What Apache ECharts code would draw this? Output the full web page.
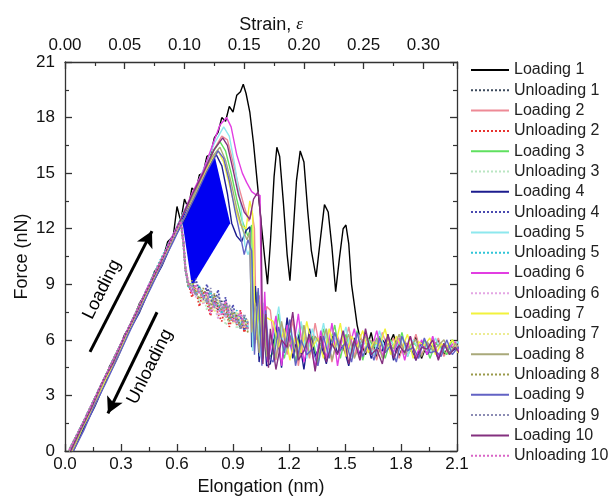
<!DOCTYPE html>
<html><head><meta charset="utf-8">
<script src="https://cdn.jsdelivr.net/npm/echarts/dist/echarts.min.js"></script>
<style>html,body{margin:0;padding:0;background:#fff}#c{width:610px;height:501px}</style>
</head><body><div id="c"></div>
<script>
// ---------- axis ticks / ranges ----------
var xMin = 0, xMax = 2.1, xStep = 0.3;
var yMin = 0, yMax = 21, yStep = 3;
var strainMax = 0.328125, strainStep = 0.05;

// ---------- series names & colours ----------
var names = ['Loading 1','Unloading 1','Loading 2','Unloading 2','Loading 3','Unloading 3','Loading 4','Unloading 4','Loading 5','Unloading 5',
             'Loading 6','Unloading 6','Loading 7','Unloading 7','Loading 8','Unloading 8','Loading 9','Unloading 9','Loading 10','Unloading 10'];
var loadColors = ['#000000','#ee8a96','#5fe05f','#1c1c8e','#8de8ee','#e23ee2','#f2f23c','#a9a97a','#6262c4','#84307f'];
var unloadColors = ['#3c4a5c','#e8322e','#b9e6c2','#4a4ab0','#2fc5d8','#e4a6e4','#ecec94','#9a9a4a','#8c8cb4','#d965c6'];

// ---------- loading curves: rise / peak / drop (elongation, force) ----------
var head1 = [[0.03,0],[0.06,0.7],[0.09,1.1],[0.12,2.0],[0.15,2.4],[0.18,3.3],[0.21,3.7],[0.24,4.6],[0.28,5.2],[0.32,6.3],[0.36,6.9],[0.40,8.0],[0.44,8.6],[0.48,9.7],[0.52,10.2],[0.55,11.3],[0.58,11.6],[0.60,13.2],[0.62,12.4],[0.64,13.6],[0.66,13.1],[0.68,14.2],[0.70,14.0],[0.72,14.9],[0.74,15.0],[0.76,15.9],[0.78,16.0],[0.80,16.9],[0.82,17.2],[0.84,18.0],[0.86,17.8],[0.88,18.6],[0.90,18.3],[0.92,19.2],[0.94,19.4],[0.955,19.8],[0.97,19.3],[0.99,18.3],[1.01,16.6],[1.03,14.5],[1.05,12.4],[1.07,10.4],[1.085,9.0],[1.10,11.2],[1.12,14.8],[1.135,16.4],[1.15,15.9],[1.17,13.4],[1.19,10.6],[1.205,9.2],[1.22,11.4],[1.24,14.6],[1.26,16.2],[1.28,15.6],[1.30,13.0],[1.32,10.8],[1.345,9.4],[1.37,11.6],[1.39,13.3],[1.41,12.9],[1.43,11.0],[1.45,8.6],[1.47,10.4],[1.49,12.0],[1.505,12.2],[1.52,11.2],[1.535,9.0],[1.55,7.9],[1.565,6.8]];
var head2 = [[0.04,0],[0.1,1.3],[0.16,2.6],[0.22,3.9],[0.28,5.1],[0.34,6.6],[0.40,7.6],[0.46,9.1],[0.52,10.2],[0.58,11.5],[0.64,12.6],[0.70,14.0],[0.76,15.3],[0.80,16.3],[0.84,17.0],[0.87,16.8],[0.90,15.6],[0.93,14.3],[0.96,13.2],[0.985,12.4],[1.0,13.0],[1.015,12.0],[1.025,6.0],[1.04,8.4],[1.06,5.0],[1.08,7.8]];
var head3 = [[0.035,0],[0.09,1.1],[0.15,2.6],[0.21,3.8],[0.27,5.2],[0.33,6.3],[0.39,7.7],[0.45,8.8],[0.51,10.2],[0.57,11.4],[0.63,12.8],[0.69,13.9],[0.75,15.3],[0.79,16.1],[0.83,16.7],[0.86,16.2],[0.89,15.0],[0.92,13.6],[0.95,12.4],[0.98,11.6],[1.0,12.2],[1.01,6.2],[1.03,8.6],[1.05,5.2],[1.07,7.9],[1.09,5.0]];
var head4 = [[0.045,0],[0.1,1.2],[0.16,2.4],[0.22,3.8],[0.28,5.0],[0.34,6.4],[0.40,7.5],[0.46,8.9],[0.52,10.0],[0.58,11.4],[0.64,12.5],[0.70,13.8],[0.75,14.9],[0.78,15.5],[0.81,16.0],[0.84,15.4],[0.87,13.9],[0.893,12.3],[0.92,11.6],[0.946,11.3],[0.97,11.9],[0.99,12.1],[1.0,5.6],[1.02,8.9],[1.04,4.8],[1.06,7.6],[1.08,4.6]];
var head5 = [[0.03,0],[0.09,1.3],[0.15,2.5],[0.21,3.9],[0.27,5.0],[0.33,6.4],[0.39,7.6],[0.45,8.9],[0.51,10.2],[0.57,11.4],[0.63,12.8],[0.69,14.0],[0.75,15.4],[0.80,16.6],[0.85,17.5],[0.88,17.0],[0.91,15.4],[0.94,13.4],[0.964,11.1],[0.98,10.6],[0.995,11.0],[1.005,5.4],[1.025,7.8],[1.045,5.1],[1.065,8.0],[1.085,5.4]];
var head6 = [[0.03,0],[0.08,1.0],[0.14,2.4],[0.20,3.6],[0.26,4.9],[0.32,6.2],[0.38,7.4],[0.44,8.8],[0.50,9.9],[0.56,11.3],[0.62,12.5],[0.68,13.9],[0.74,15.1],[0.79,16.5],[0.83,17.6],[0.866,18.0],[0.89,17.5],[0.92,16.0],[0.95,15.0],[0.973,14.5],[1.0,14.0],[1.027,13.8],[1.045,13.8],[1.055,5.0],[1.07,8.6],[1.085,4.8]];
var head7 = [[0.04,0],[0.1,1.4],[0.16,2.5],[0.22,3.9],[0.28,5.0],[0.34,6.5],[0.40,7.6],[0.46,9.0],[0.52,10.1],[0.58,11.5],[0.64,12.6],[0.70,13.9],[0.76,15.2],[0.79,15.8],[0.82,16.2],[0.85,15.6],[0.88,14.4],[0.91,13.2],[0.94,12.2],[0.97,12.0],[0.99,13.5],[1.005,12.8],[1.02,5.8],[1.04,8.2],[1.06,5.4],[1.08,7.2]];
var head8 = [[0.035,0],[0.09,1.2],[0.15,2.5],[0.21,3.8],[0.27,5.1],[0.33,6.3],[0.39,7.7],[0.45,8.8],[0.51,10.2],[0.57,11.3],[0.63,12.7],[0.69,13.8],[0.75,15.2],[0.79,15.9],[0.83,16.4],[0.86,15.7],[0.89,14.5],[0.92,13.1],[0.95,12.0],[0.975,11.4],[0.99,11.8],[1.0,6.4],[1.02,8.0],[1.04,5.3],[1.06,7.4],[1.08,5.1]];
var head9 = [[0.045,0],[0.1,1.1],[0.16,2.5],[0.22,3.7],[0.28,5.0],[0.34,6.3],[0.40,7.6],[0.46,8.8],[0.52,10.1],[0.58,11.3],[0.64,12.6],[0.70,13.8],[0.76,15.1],[0.82,16.2],[0.85,15.8],[0.88,14.6],[0.91,13.0],[0.94,11.6],[0.96,10.6],[0.98,11.4],[1.0,10.8],[1.015,5.2],[1.035,8.8],[1.055,4.6],[1.075,7.6],[1.095,5.0]];
var head10 = [[0.03,0],[0.08,1.1],[0.14,2.3],[0.20,3.7],[0.26,4.8],[0.32,6.2],[0.38,7.4],[0.44,8.7],[0.50,9.9],[0.56,11.2],[0.62,12.5],[0.68,13.8],[0.74,15.0],[0.80,16.3],[0.845,16.9],[0.87,16.5],[0.90,15.2],[0.93,13.8],[0.96,12.9],[0.99,12.5],[1.01,13.6],[1.035,14.0],[1.05,12.5],[1.06,4.7],[1.075,7.4],[1.09,4.5]];

// ---------- loading curves: noisy plateau after failure ----------
var tailXa = [1.10,1.13,1.16,1.19,1.22,1.25,1.28,1.31,1.34,1.37,1.40,1.43,1.46,1.49,1.52,1.55,1.58,1.61,1.64,1.67,1.70,1.73,1.76,1.79,1.82,1.85,1.88,1.91,1.94,1.97,2.00,2.03,2.06,2.09,2.12];
var tailXb = [1.115,1.145,1.175,1.205,1.235,1.265,1.295,1.325,1.355,1.385,1.415,1.445,1.475,1.505,1.535,1.565,1.595,1.625,1.655,1.685,1.715,1.745,1.775,1.805,1.835,1.865,1.895,1.925,1.955,1.985,2.015,2.045,2.075,2.105,2.135];
var tail1 = [6.1,5.2,6.4,5.0,6.0,5.6,6.3,5.1,5.9,5.4,6.2,5.0,5.8,5.6,6.0,5.2,5.7,5.5,5.4]; // from 1.58 on
var tail2 = [7.6,4.9,6.8,5.2,7.1,4.6,6.5,5.0,6.9,5.3,6.4,4.8,6.2,5.4,6.7,5.1,6.3,5.3,6.0,4.9,6.4,5.5,6.1,5.0,5.9,5.4,6.3,5.2,5.8,5.5,6.1,5.1,5.7,5.6,5.3];
var tail3 = [5.3,7.4,5.0,6.6,4.8,6.9,5.4,6.2,4.7,6.6,5.6,6.8,5.0,6.3,5.2,6.5,4.9,6.1,5.6,6.2,5.0,6.0,5.3,6.4,5.1,5.9,5.5,6.0,5.0,5.8,5.6,5.2,6.0,5.4,5.6];
var tail4 = [4.7,6.9,4.5,7.2,5.0,6.3,4.4,6.6,5.1,5.8,4.7,6.2,5.3,5.7,4.6,6.1,5.2,6.4,5.0,5.6,5.4,6.3,4.9,6.0,5.3,5.6,4.9,5.9,5.2,5.7,5.0,5.8,5.3,5.5,5.4];
var tail5 = [6.1,7.8,5.2,6.4,5.8,7.0,5.0,6.6,5.5,6.9,5.2,6.1,5.6,6.7,5.1,6.3,5.7,6.0,5.2,6.5,5.4,5.9,5.6,6.2,5.1,6.0,5.5,5.8,5.3,6.1,5.4,5.7,5.5,5.9,5.5];
var tail6 = [5.5,7.3,4.6,6.8,5.3,7.4,4.8,6.1,4.5,6.5,5.0,6.9,4.6,6.4,5.5,6.6,4.9,6.3,5.4,6.5,5.1,6.2,5.3,6.1,4.9,6.2,5.0,6.0,5.2,6.2,5.1,5.7,5.6,5.9,5.2];
var tail7 = [7.0,5.6,6.6,4.9,6.2,5.3,7.0,5.6,6.1,5.0,6.6,5.5,6.9,5.1,6.2,5.6,6.5,5.3,5.9,5.7,6.6,5.2,6.2,5.5,6.3,5.0,5.9,5.7,6.1,5.2,5.8,5.6,6.0,5.3,5.7];
var tail8 = [6.3,5.0,7.0,5.5,6.0,4.9,6.8,5.2,6.2,5.7,6.6,4.9,6.0,5.6,6.3,5.0,5.8,6.2,5.4,6.1,5.0,5.8,5.5,6.3,5.2,5.7,6.0,5.1,5.9,5.4,5.7,6.0,5.2,5.8,5.5];
var tail9 = [4.8,6.7,5.3,7.1,4.6,6.0,5.2,5.5,4.6,6.2,5.0,6.4,5.4,5.9,4.8,6.4,5.1,5.8,4.9,6.1,5.3,5.7,4.8,6.2,5.4,5.6,5.0,6.1,5.3,5.4,5.1,6.0,5.2,5.6,5.3];
var tail10 = [6.6,4.4,6.0,5.6,7.5,4.9,5.4,6.3,4.3,6.2,4.8,5.8,5.2,6.5,4.7,6.0,4.9,6.6,5.2,5.5,4.7,6.3,5.0,5.7,5.3,6.2,4.9,5.6,5.5,6.0,4.9,5.8,5.2,5.6,5.2];

// ---------- unloading curves (elongation decreasing) ----------
var unX = [0.98,0.96,0.94,0.92,0.90,0.88,0.86,0.84,0.82,0.80,0.78,0.76,0.74,0.72,0.70,0.68,0.66,0.645,0.635,0.62,0.5,0.4,0.3,0.2,0.1,0.02];
var un1 = [6.6,7.2,6.6,7.4,7.0,7.8,7.2,8.1,7.6,8.4,7.9,8.7,8.2,8.9,8.5,9.0,8.9,9.8,11.2,12.4,10.0,7.9,5.8,3.7,1.6,0];
var un2 = [6.9,6.4,7.6,6.8,7.3,6.7,7.9,7.0,7.4,8.2,7.3,8.0,8.6,7.8,8.8,8.3,9.1,9.9,11.3,12.4,10.0,7.8,5.7,3.6,1.5,0];
var un3 = [6.5,7.0,6.9,6.6,7.7,7.1,6.8,7.9,7.2,7.7,8.4,7.6,8.5,8.0,8.9,8.7,9.2,10.0,11.1,12.3,9.9,7.8,5.7,3.7,1.6,0];
var un4 = [7.0,6.5,7.3,6.9,7.9,7.1,8.3,7.5,8.7,7.9,8.2,9.0,8.1,8.6,9.3,8.6,9.0,9.7,11.0,12.4,10.0,7.9,5.8,3.7,1.6,0];
var un5 = [6.7,7.3,6.8,7.6,7.2,7.1,7.9,7.4,8.0,7.8,8.6,8.1,8.3,8.9,8.4,9.1,8.8,9.9,11.2,12.5,10.1,7.9,5.8,3.7,1.6,0];
var un6 = [6.8,6.9,7.4,6.9,7.6,7.6,7.2,8.0,7.1,8.3,7.7,8.5,7.9,8.8,8.3,8.8,9.1,10.0,11.3,12.4,10.0,7.9,5.8,3.7,1.6,0];
var un7 = [7.1,6.7,7.0,7.5,6.9,7.8,7.4,7.7,8.2,7.5,8.1,8.4,8.0,8.6,8.7,9.0,9.0,9.8,11.1,12.3,9.9,7.8,5.7,3.6,1.5,0];
var un8 = [6.4,7.1,6.7,7.2,7.5,7.0,8.0,7.6,7.9,8.5,7.6,8.3,8.8,8.2,8.6,9.2,8.9,9.9,11.2,12.4,10.0,7.9,5.8,3.7,1.6,0];
var un9 = [6.9,7.4,6.6,7.1,7.3,7.9,7.3,7.8,8.4,7.7,8.8,8.0,8.4,8.7,8.4,8.9,9.0,9.8,11.2,12.4,10.0,7.9,5.8,3.7,1.6,0];
var un10 = [6.6,6.8,7.5,7.2,7.0,7.4,8.1,7.3,7.8,8.0,7.4,8.6,8.3,8.5,9.0,8.5,9.1,9.9,11.3,12.4,10.0,7.9,5.8,3.7,1.6,0];

// ---------- hysteresis area (filled) ----------
var fillX = [0.625, 0.80, 0.885, 0.68];
var fillY = [12.65, 16.0, 12.3, 8.9];

// ---------- annotation arrows (data coordinates) ----------
var loadArrow = [[0.134, 5.35], [0.466, 11.87]];
var unloadArrow = [[0.493, 7.49], [0.23, 2.03]];
var loadTextPos = [0.198, 8.72];
var unloadTextPos = [0.455, 4.55];

// ---------- build ----------
function zip(xs, ys) { return ys.map(function (y, i) { return [xs[i], y]; }); }
var heads = [head1, head2, head3, head4, head5, head6, head7, head8, head9, head10];
var tails = [null, tail2, tail3, tail4, tail5, tail6, tail7, tail8, tail9, tail10];
var uns = [un1, un2, un3, un4, un5, un6, un7, un8, un9, un10];

var series = [{
  type: 'custom', name: 'area', silent: true,
  data: [[fillX[0], fillY[0]]],
  renderItem: function (params, api) {
    var pts = fillX.map(function (x, i) { return api.coord([x, fillY[i]]); });
    return { type: 'polygon', shape: { points: pts }, style: { fill: '#0000f2' } };
  },
  markLine: {
    silent: true, symbol: ['none', 'arrow'], symbolSize: [13, 16],
    lineStyle: { color: '#000', width: 3, type: 'solid' },
    label: { show: false },
    data: [
      [{ coord: loadArrow[0] }, { coord: loadArrow[1] }],
      [{ coord: unloadArrow[0] }, { coord: unloadArrow[1] }]
    ]
  }
}];
for (var i = 0; i < 10; i++) {
  var d;
  if (i === 0) d = head1.concat(zip(tailXa.slice(16), tail1));
  else d = heads[i].concat(zip(i % 2 === 1 ? tailXa : tailXb, tails[i]));
  series.push({
    type: 'line', name: names[2 * i], data: d, symbol: 'none', showSymbol: false,
    lineStyle: { color: loadColors[i], width: 1.4 }, itemStyle: { color: loadColors[i] }
  });
  series.push({
    type: 'line', name: names[2 * i + 1], data: zip(unX, uns[i]), symbol: 'none', showSymbol: false,
    lineStyle: { color: unloadColors[i], width: 1.8, type: 'dotted' }, itemStyle: { color: unloadColors[i] }
  });
}

var axisColor = '#333';
var font = 'Liberation Sans, Arial, sans-serif';
function baseAxis(extra) {
  var a = {
    type: 'value',
    nameMoveOverlap: false,
    axisLine: { show: true, onZero: false, lineStyle: { color: axisColor, width: 1.3 } },
    axisTick: { show: true, inside: true, length: 7, lineStyle: { color: axisColor, width: 1.3 } },
    minorTick: { show: true, splitNumber: 2, length: 4, lineStyle: { color: axisColor, width: 1.2 } },
    splitLine: { show: false }, minorSplitLine: { show: false },
    axisLabel: { color: '#111', fontSize: 17, fontFamily: font },
    nameTextStyle: { color: '#111', fontSize: 18, fontFamily: font }
  };
  for (var k in extra) {
    if (typeof extra[k] === 'object' && a[k] && !Array.isArray(extra[k])) {
      for (var kk in extra[k]) a[k][kk] = extra[k][kk];
    } else a[k] = extra[k];
  }
  return a;
}

var chart = echarts.init(document.getElementById('c'), null, { renderer: 'canvas' });
chart.setOption({
  animation: false,
  backgroundColor: '#fff',
  textStyle: { fontFamily: font },
  grid: { left: 65, right: 153, top: 62, bottom: 46, containLabel: false },
  legend: {
    orient: 'vertical', left: 470, top: 62, padding: 0, itemGap: 4.3,
    itemWidth: 38, itemHeight: 14, data: names,
    itemStyle: { opacity: 0 },
    lineStyle: { width: 2 },
    textStyle: { color: '#222', fontSize: 16, fontFamily: font }
  },
  xAxis: [
    baseAxis({ position: 'bottom', min: xMin, max: xMax, interval: xStep,
      axisLabel: { margin: 5, formatter: function (v) { return v.toFixed(1); } },
      name: 'Elongation (nm)', nameLocation: 'middle', nameGap: 27 }),
    baseAxis({ position: 'top', min: 0, max: strainMax, interval: strainStep,
      axisLabel: { margin: 8, showMaxLabel: false, formatter: function (v) { return v.toFixed(2); } },
      name: '{t|Strain, }{e|ε}', nameLocation: 'middle', nameGap: 28,
      nameTextStyle: { padding: [0, 0, 0, 20], rich: {
        t: { fontSize: 18, fontFamily: font, color: '#111' },
        e: { fontSize: 17, fontFamily: 'Liberation Serif, DejaVu Serif, serif', fontStyle: 'italic', color: '#111' } } } })
  ],
  yAxis: [
    baseAxis({ position: 'left', min: yMin, max: yMax, interval: yStep,
      axisLabel: { margin: 10 },
      name: 'Force (nN)', nameLocation: 'middle', nameGap: 34 }),
    baseAxis({ position: 'right', min: yMin, max: yMax, interval: yStep,
      axisLabel: { show: false } })
  ],
  series: series
});

function textAt(pos, txt) {
  var p = chart.convertToPixel({ xAxisIndex: 0, yAxisIndex: 0 }, pos);
  return {
    type: 'text', x: p[0], y: p[1], rotation: 63.5 * Math.PI / 180, silent: true,
    style: { text: txt, fontSize: 18, fontFamily: font, fill: '#000',
      align: 'center', verticalAlign: 'middle', textAlign: 'center', textVerticalAlign: 'middle' }
  };
}
chart.setOption({ graphic: [textAt(loadTextPos, 'Loading'), textAt(unloadTextPos, 'Unloading')] });
</script></body></html>
